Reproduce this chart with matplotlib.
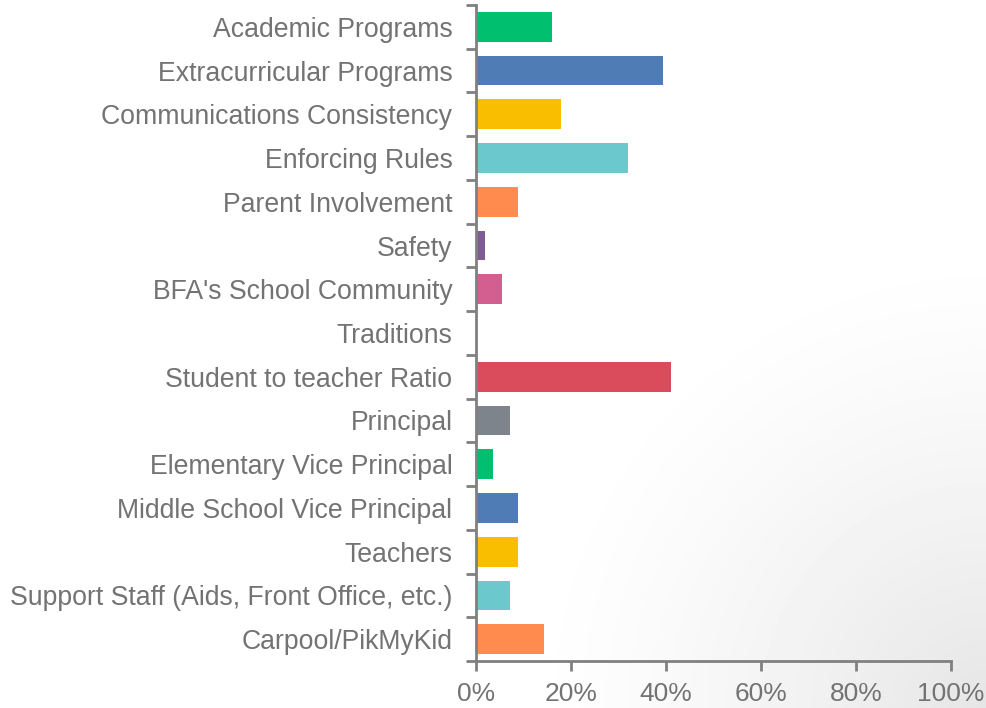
import numpy as np
import matplotlib
matplotlib.use('agg')
import matplotlib.pyplot as plt
from matplotlib.ticker import FuncFormatter, FixedLocator

plt.rcParams['font.family'] = ['Liberation Sans', 'DejaVu Sans']

categories = ['Academic Programs', 'Extracurricular Programs',
              'Communications Consistency', 'Enforcing Rules',
              'Parent Involvement', 'Safety', "BFA's School Community",
              'Traditions', 'Student to teacher Ratio', 'Principal',
              'Elementary Vice Principal', 'Middle School Vice Principal',
              'Teachers', 'Support Staff (Aids, Front Office, etc.)',
              'Carpool/PikMyKid']
values = [16.1, 39.3, 17.9, 32.1, 8.9, 1.8, 5.4, 0.0, 41.1, 7.1,
          3.6, 8.9, 8.9, 7.1, 14.3]
colors = ['#00BF6F', '#507CB6', '#F9BE00', '#6BC8CD', '#FF8B4F',
          '#7F5C93', '#D25F90', '#00BF6F', '#DA4B5B', '#7D848B',
          '#00BF6F', '#507CB6', '#F9BE00', '#6BC8CD', '#FF8B4F']
xticks = [0, 20, 40, 60, 80, 100]

grey = '#808080'
text_grey = '#737373'

W, H = 986, 708
fig = plt.figure(figsize=(W / 100, H / 100), dpi=100)

# soft grey glow coming in from the bottom-right corner
bg = fig.add_axes([0, 0, 1, 1])
yy, xx = np.mgrid[0:H:354j, 0:W:493j]
r = np.hypot(W - xx, H - yy)
shade = np.clip(1 - r / 470.0, 0, 1) ** 1.3
img = 1.0 - 0.1 * shade
bg.imshow(img, cmap='gray', vmin=0, vmax=1, extent=[0, 1, 0, 1],
          aspect='auto', origin='upper')
bg.axis('off')

ax = fig.add_axes([476 / W, 1 - 661 / H, (951 - 476) / W, (661 - 5) / H])
ax.patch.set_alpha(0)
n = len(categories)
pos = np.arange(n)
ax.barh(pos, values, height=0.68, color=colors)
ax.set_ylim(n - 0.5, -0.5)
ax.set_xlim(0, 100)

ax.set_yticks(pos)
ax.set_yticklabels(categories)
ax.yaxis.set_minor_locator(FixedLocator(np.arange(-0.5, n, 1)))
ax.tick_params(axis='y', which='major', length=0, pad=17,
               labelsize=19.2, labelcolor=text_grey)
ax.tick_params(axis='y', which='minor', length=7, width=2, color=grey)

ax.set_xticks(xticks)
ax.xaxis.set_major_formatter(FuncFormatter(lambda v, p: '%d%%' % v))
ax.tick_params(axis='x', length=7, width=2, color=grey, pad=8,
               labelsize=19, labelcolor=text_grey)

for s in ['top', 'right']:
    ax.spines[s].set_visible(False)
for s in ['left', 'bottom']:
    ax.spines[s].set_color(grey)
    ax.spines[s].set_linewidth(2)

plt.savefig('out.png', dpi=100)
